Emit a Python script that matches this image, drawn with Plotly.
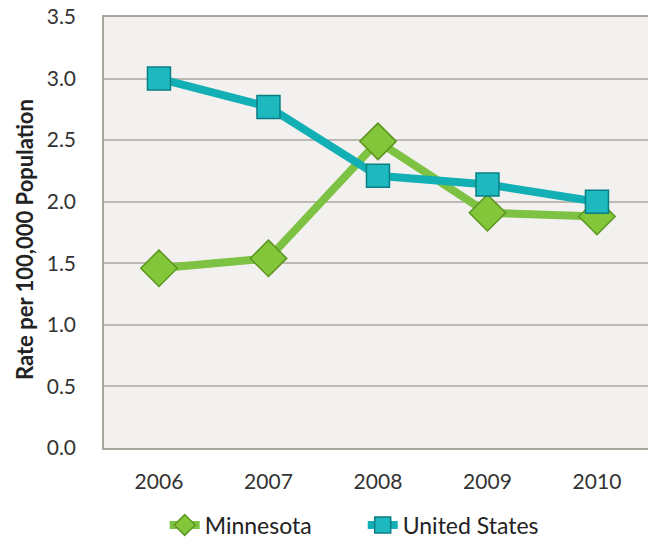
import plotly.graph_objects as go

years = ["2006", "2007", "2008", "2009", "2010"]
minnesota = [1.46, 1.54, 2.49, 1.91, 1.88]
united_states = [3.00, 2.77, 2.21, 2.14, 2.00]
y_ticks = [0.0, 0.5, 1.0, 1.5, 2.0, 2.5, 3.0, 3.5]

fig = go.Figure()
fig.add_trace(go.Scatter(
    x=years, y=minnesota, name="Minnesota", mode="lines+markers",
    line=dict(color="#7DC242", width=8),
    marker=dict(symbol="diamond", size=28, color="#84C63A",
                line=dict(color="#5C9620", width=1.5)),
))
fig.add_trace(go.Scatter(
    x=years, y=united_states, name="United States", mode="lines+markers",
    line=dict(color="#12AFB5", width=8),
    marker=dict(symbol="square", size=23, color="#1EB8BF",
                line=dict(color="#0A7E83", width=1.5)),
))

fig.update_layout(
    width=648, height=540,
    margin=dict(l=104, r=0, t=17, b=92, autoexpand=False),
    paper_bgcolor="white",
    plot_bgcolor="#F3F1EF",
    font=dict(family="Lato, Open Sans, sans-serif", color="#333333"),
    showlegend=True,
    legend=dict(orientation="h", x=0.1116, xanchor="left", y=-0.1787, yanchor="middle",
                font=dict(size=23, color="#222222"), entrywidth=153,
                traceorder="normal"),
    xaxis=dict(type="category", range=[-0.502, 4.466], showgrid=False,
               tickfont=dict(size=21, color="#333333"), ticks="", ticklen=0,
               showline=True, linecolor="#A8A49E", linewidth=1.5, mirror=True,
               ticklabelstandoff=14, zeroline=False, automargin=False),
    yaxis=dict(range=[0, 3.5], tickvals=y_ticks, tickformat=".1f",
               showgrid=True, gridcolor="#BEB9B2", gridwidth=2,
               tickfont=dict(size=21, color="#333333"),
               showline=True, linecolor="#A8A49E", linewidth=1.5, mirror=True,
               ticklabelstandoff=22, zeroline=False, ticklabeloverflow="allow",
               automargin=False),
    annotations=[dict(text="<b>Rate per 100,000 Population</b>", textangle=-90,
                      xref="paper", yref="paper", x=-(104 - 25) / 544, y=0.4826,
                      xanchor="center", yanchor="middle", showarrow=False,
                      font=dict(size=22, color="#222222"))],
)

fig.write_html("out.html", config={"displayModeBar": False},
               post_script="document.body.style.margin='0px';document.body.style.overflow='hidden';")
